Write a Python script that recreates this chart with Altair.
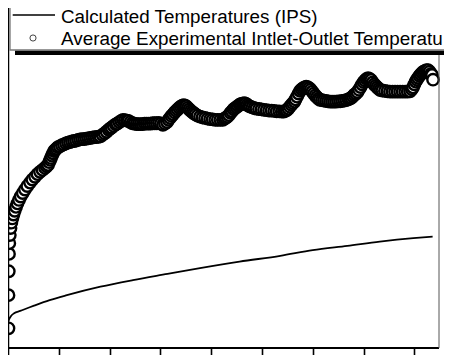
import altair as alt
import pandas as pd

# Experimental (average inlet-outlet) temperatures: time (s), temperature (°C)
exp_time = [
    0.5, 0.5, 0.8, 1.0, 1.3, 1.8, 2.5, 3.3, 4.3, 5.4,
    6.6, 7.9, 9.3, 10.8, 12.5, 14.5, 16.7, 19.0, 21.7, 24.0,
    26.6, 29.0, 31.5, 34.0, 36.4, 38.0, 39.4, 40.5, 41.5, 42.3,
    43.3, 44.3, 45.3, 46.5, 47.8, 49.2, 51, 53, 55, 57,
    59, 61, 63, 65, 67, 69, 71, 73, 75, 77,
    79, 81, 83, 85, 87, 89, 91, 93, 95, 97,
    99, 100.5, 102, 104, 106, 107.5, 109.5, 111.5, 113.2, 115,
    117, 118.5, 120.5, 122.5, 124.5, 126.5, 128.5, 130.5, 132.5, 134.5,
    136.5, 138.5, 140.5, 142.5, 144.5, 146.5, 148.5, 150.5, 152.5, 154.5,
    156.5, 158, 159.5, 161, 162.5, 164, 165.5, 167, 168.5, 170,
    171.5, 173, 174.5, 175.5, 177, 178.5, 180, 181.5, 183, 184.5,
    186.5, 189, 191.5, 194, 196.5, 199, 201.5, 204, 206.5, 209,
    211.5, 213, 214.5, 216, 217.5, 219, 220.5, 222, 223.5, 225,
    226.5, 228, 229.5, 231, 232.5, 234, 235.5, 237, 238.5, 240.5,
    242.5, 244.5, 247, 249.5, 252, 254.5, 257, 259.5, 262, 264.5,
    267, 269.5, 271.5, 273, 274.5, 276, 277.5, 279, 280.5, 282,
    283, 284.5, 286, 287.5, 289, 290.5, 292, 293.5, 295, 296.5,
    298, 299.5, 301, 302.5, 304, 305.5, 307, 309, 311, 313,
    315, 317, 319, 321, 323, 325, 327, 329, 331, 333,
    335, 336.5, 338, 339.5, 341, 342.5, 344, 345.5, 347, 348.5,
    350, 351.5, 353, 354.5, 356, 357.5, 359, 360.5, 362, 363.5,
    365, 366.5, 368.5, 371, 373.5, 376, 378.5, 381, 383.5, 386,
    388.5, 391, 393.5, 395.8, 397.5, 398.7, 400, 401.3, 402.5, 403.6,
    405, 406.3, 407.6, 409, 410.5, 412, 413.5, 415, 416.5, 417.4,
    418.4,
]
exp_temp = [
    20.0, 28.6, 34.8, 39.3, 42.1, 44.2, 46.0, 47.4, 48.5, 49.5,
    50.5, 51.5, 52.4, 53.3, 54.2, 55.1, 56.0, 56.9, 57.8, 58.6,
    59.3, 60.0, 60.6, 61.1, 61.6, 62.0, 62.4, 63.1, 63.7, 64.2,
    64.8, 65.4, 66.0, 66.3, 66.6, 67.0, 67.2, 67.5, 67.7, 68.0,
    68.2, 68.3, 68.5, 68.6, 68.7, 68.9, 69.0, 69.1, 69.1, 69.2,
    69.3, 69.4, 69.5, 69.6, 69.6, 69.7, 69.8, 70.2, 70.6, 71.0,
    71.5, 71.8, 72.1, 72.5, 72.9, 73.1, 73.5, 73.8, 74.1, 74.0,
    73.9, 73.8, 73.5, 73.2, 73.1, 73.0, 73.0, 73.0, 73.0, 73.1,
    73.1, 73.1, 73.1, 73.2, 73.2, 73.2, 73.3, 73.1, 72.8, 73.1,
    73.5, 74.1, 74.6, 75.1, 75.5, 76.0, 76.4, 76.8, 77.2, 77.5,
    77.8, 77.9, 77.8, 77.6, 77.2, 76.8, 76.4, 76.1, 75.8, 75.5,
    75.2, 74.9, 74.7, 74.6, 74.4, 74.3, 74.2, 74.1, 74.1, 74.1,
    74.1, 74.4, 74.6, 74.9, 75.3, 75.9, 76.3, 76.8, 77.1, 77.4,
    77.7, 78.0, 78.2, 78.3, 78.4, 78.3, 78.0, 77.7, 77.5, 77.3,
    77.1, 77.0, 76.9, 76.8, 76.7, 76.6, 76.5, 76.5, 76.4, 76.3,
    76.3, 76.2, 76.2, 76.4, 76.6, 77.0, 77.5, 78.0, 78.4, 78.8,
    79.4, 80.1, 80.9, 81.6, 82.0, 82.3, 82.5, 82.7, 82.6, 82.3,
    81.9, 81.4, 80.9, 80.4, 80.0, 79.6, 79.3, 79.2, 79.1, 79.0,
    78.9, 78.8, 78.8, 78.8, 78.8, 78.9, 78.9, 79.0, 79.1, 79.2,
    79.4, 79.6, 79.8, 80.2, 80.6, 80.9, 81.3, 81.9, 82.6, 83.3,
    83.9, 84.3, 84.7, 84.9, 84.7, 84.4, 83.8, 83.3, 82.9, 82.5,
    82.1, 81.8, 81.7, 81.6, 81.5, 81.4, 81.4, 81.4, 81.4, 81.4,
    81.4, 81.4, 81.4, 81.5, 82.0, 82.5, 83.3, 84.0, 84.5, 85.0,
    85.5, 85.9, 86.3, 86.6, 86.8, 87.0, 87.0, 86.6, 86.0, 85.7,
    84.5,
]

# Calculated temperatures (IPS)
calc_time = [0, 1, 3, 6, 12, 25, 41, 58, 91, 123, 157, 189, 228, 268, 300, 334, 366, 399, 418]
calc_temp = [21.6, 22.3, 23.2, 23.9, 24.5, 25.8, 27.3, 28.6, 30.8, 32.5, 34.1, 35.6, 37.3,
             38.8, 40.3, 41.4, 42.5, 43.4, 43.8]

x_ticks = [0, 50, 100, 150, 200, 250, 300, 350, 400]
# legend texts as they are visible in the (cropped) reference figure
legend_labels = ["Calculated Temperatures (IPS)",
                 "Average Experimental Intlet-Outlet Temperatu"]

assert len(exp_time) == len(exp_temp)

W, H = 436, 340
FONT = "Liberation Sans"
xs = alt.Scale(domain=[0, 429.2], nice=False, zero=False)
ys = alt.Scale(domain=[14.89, 103.11], nice=False, zero=False)

exp_df = pd.DataFrame({"t": exp_time, "T": exp_temp, "i": list(range(len(exp_time)))})
calc_df = pd.DataFrame({"t": calc_time, "T": calc_temp})
one = pd.DataFrame({"k": [0]})

points = alt.Chart(exp_df).mark_circle(
    fill="white", fillOpacity=1, stroke="black", strokeWidth=2.4, size=130, opacity=1, clip=True
).encode(
    x=alt.X("t:Q", scale=xs,
            axis=alt.Axis(values=x_ticks, labels=False, domain=False, grid=False, ticks=True,
                          tickSize=7, tickColor="black", tickWidth=1.6, title=None)),
    y=alt.Y("T:Q", scale=ys, axis=None),
    order="i:Q",
)

line = alt.Chart(calc_df).mark_line(color="black", strokeWidth=1.8, interpolate="monotone").encode(
    x=alt.X("t:Q", scale=xs),
    y=alt.Y("T:Q", scale=ys),
)

bottom = alt.Chart(one).mark_rule(color="black", strokeWidth=2).encode(
    x=alt.value(0), x2=alt.value(431), y=alt.value(340))
left = alt.Chart(one).mark_rule(color="black", strokeWidth=1.5).encode(
    x=alt.value(0.5), y=alt.value(0), y2=alt.value(340))
right = alt.Chart(one).mark_rule(color="#555", strokeWidth=1).encode(
    x=alt.value(431), y=alt.value(47), y2=alt.value(340))

shadow = alt.Chart(one).mark_rect(color="black").encode(
    x=alt.value(7), x2=alt.value(450), y=alt.value(42.5), y2=alt.value(47))
box = alt.Chart(one).mark_rect(fill="white", stroke="#777", strokeWidth=1.3).encode(
    x=alt.value(2), x2=alt.value(450), y=alt.value(-3), y2=alt.value(42))
leg_line = alt.Chart(one).mark_rule(color="black", strokeWidth=1.5).encode(
    x=alt.value(4.7), x2=alt.value(47), y=alt.value(7))
leg_circle = alt.Chart(one).mark_circle(
    fill="white", fillOpacity=1, stroke="#444", strokeWidth=1, size=38, opacity=1
).encode(x=alt.value(25), y=alt.value(30))
text1 = alt.Chart(one).mark_text(
    align="left", baseline="alphabetic", font=FONT, fontSize=18.8, color="black"
).encode(x=alt.value(53), y=alt.value(14.5), text=alt.value(legend_labels[0]))
text2 = alt.Chart(one).mark_text(
    align="left", baseline="alphabetic", font=FONT, fontSize=18.85, color="black"
).encode(x=alt.value(53), y=alt.value(37), text=alt.value(legend_labels[1]))

chart = alt.layer(
    points, line, bottom, left, right, shadow, box, leg_line, leg_circle, text1, text2
).properties(
    width=W, height=H,
    padding={"left": 0, "top": 0, "right": 0, "bottom": 10},
    autosize=alt.AutoSizeParams(type="none"),
    background="white",
).configure_view(stroke=None)

chart.save("out.html", embed_options={"renderer": "svg", "actions": False})
